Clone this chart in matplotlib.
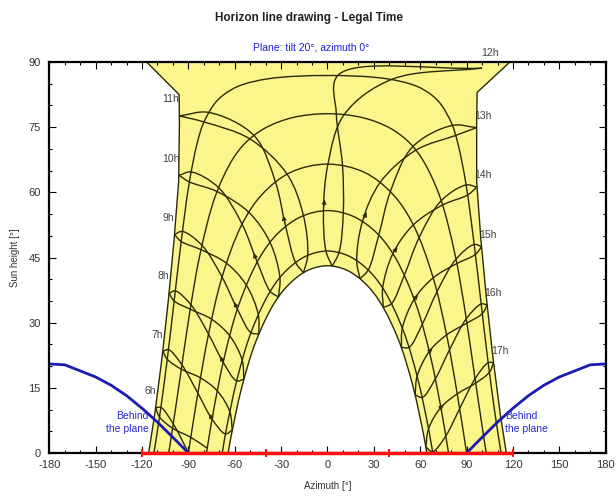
import numpy as np
import matplotlib
matplotlib.use("Agg")
import matplotlib.pyplot as plt
from matplotlib.path import Path
from matplotlib.patches import PathPatch
from matplotlib import font_manager

installed = {f.name for f in font_manager.fontManager.ttflist}
narrow = 'Liberation Sans Narrow' if 'Liberation Sans Narrow' in installed else 'Liberation Sans'
plt.rcParams['font.family'] = [narrow, 'DejaVu Sans']
plt.rcParams['axes.unicode_minus'] = False

# Date curves (azimuth [deg], sun height [deg]) - sunrise to sunset
az_jun22 = [-115.7, -111.7, -107.0, -102.9, -99.3, -96.3, -95.8, -96.0, -117.0,
            118.0, 96.8, 96.5, 96.5, 99.3, 102.9, 107.0, 111.7, 115.7]
el_jun22 = [0, 9.1, 22.1, 35.4, 48.9, 62.5, 76.2, 82.5, 90,
            90, 83.0, 76.2, 62.5, 48.9, 35.4, 22.1, 9.1, 0]
az_may22 = [-112.3, -108.8, -103.8, -99.3, -94.8, -89.5, -84.4, -80.4, -73.5, -67.4, -57.2, -37.3, 0,
            37.3, 57.2, 67.4, 73.5, 80.4, 84.4, 89.5, 94.8, 99.3, 103.8, 108.8, 112.3]
el_may22 = [0, 8.0, 21.2, 34.7, 48.3, 62.1, 71.2, 75.8, 80.2, 82.4, 84.5, 86.2, 86.9,
            86.2, 84.5, 82.4, 80.2, 75.8, 71.2, 62.1, 48.3, 34.7, 21.2, 8.0, 0]
az_apr20 = [-102.7, -100.7, -95.0, -89.3, -82.5, -72.6, -61.4, -52.8, -40.4, -22.6, 0,
            22.6, 40.4, 52.8, 61.4, 72.6, 82.5, 89.3, 95.0, 100.7, 102.7]
el_apr20 = [0, 4.6, 18.2, 32.0, 45.7, 59.1, 67.6, 71.5, 74.8, 77.2, 78.1,
            77.2, 74.8, 71.5, 67.6, 59.1, 45.7, 32.0, 18.2, 4.6, 0]
az_mar20 = [-90, -83.9, -77.0, -68.3, -55.4, -42.4, -23.9, 0, 23.9, 42.4, 55.4, 68.3, 77.0, 83.9, 90]
el_mar20 = [0, 13.7, 27.3, 40.4, 52.6, 59.5, 64.6, 66.5, 64.6, 59.5, 52.6, 40.4, 27.3, 13.7, 0]
az_feb21 = [-78.3, -74.0, -66.7, -57.2, -44.0, -32.0, -17.1, 0, 17.1, 32.0, 44.0, 57.2, 66.7, 74.0, 78.3]
el_feb21 = [0, 9.2, 22.1, 34.3, 44.9, 50.6, 54.4, 55.8, 54.4, 50.6, 44.9, 34.3, 22.1, 9.2, 0]
az_jan19 = [-68.1, -65.7, -58.4, -49.0, -36.4, -25.8, -13.4, 0, 13.4, 25.8, 36.4, 49.0, 58.4, 65.7, 68.1]
el_jan19 = [0, 5.0, 17.1, 28.2, 37.6, 42.3, 45.4, 46.5, 45.4, 42.3, 37.6, 28.2, 17.1, 5.0, 0]
az_dec22 = [-64.3, -62.6, -55.4, -46.1, -33.9, -23.9, -12.4, 0, 12.4, 23.9, 33.9, 46.1, 55.4, 62.6, 64.3]
el_dec22 = [0, 3.4, 15.2, 25.9, 34.8, 39.2, 42.1, 43.1, 42.1, 39.2, 34.8, 25.9, 15.2, 3.4, 0]

# Sun position at each legal hour 6h..17h for given dates (nan = below horizon)
hours = [6, 7, 8, 9, 10, 11, 12, 13, 14, 15, 16, 17]
nan = np.nan
h_az_jun22 = [-111.2, -106.5, -102.5, -99.0, -96.0, -95.8, 100.0, 96.5, 96.6, 99.7, 103.3, 107.4]
h_el_jun22 = [10.4, 23.4, 36.8, 50.3, 63.9, 77.6, 88.6, 74.9, 61.2, 47.5, 34.1, 20.8]
h_az_may22 = [-107.8, -102.9, -98.4, -93.9, -88.3, -76.9, 41.5, 82.9, 90.7, 95.7, 100.2, 104.8]
h_el_may22 = [10.5, 23.8, 37.3, 51.0, 64.7, 78.4, 86.0, 73.1, 59.4, 45.7, 32.1, 18.6]
h_az_jul23 = [-108.7, -103.7, -99.2, -94.7, -89.4, -79.9, 6.9, 80.7, 89.7, 94.9, 99.4, 104.0]
h_el_jul23 = [8.3, 21.6, 35.0, 48.7, 62.4, 76.2, 87.0, 75.4, 61.7, 48.0, 34.3, 20.8]
h_az_apr20 = [-99.8, -94.2, -88.3, -81.2, -70.5, -47.6, 10.8, 57.1, 74.5, 83.6, 90.2, 95.9]
h_el_apr20 = [6.7, 20.3, 34.1, 47.8, 61.1, 73.1, 77.9, 69.7, 57.1, 43.6, 29.9, 16.1]
h_az_aug20 = [-100.2, -94.6, -88.8, -81.8, -71.5, -50.2, 5.7, 55.1, 73.6, 83.1, 89.8, 95.5]
h_el_aug20 = [5.7, 19.3, 33.1, 46.8, 60.2, 72.3, 78.1, 70.5, 58.1, 44.6, 30.9, 17.1]
h_az_mar20 = [-90.0, -83.9, -77.0, -68.2, -55.3, -33.7, 0.3, 34.1, 55.5, 68.3, 77.1, 83.9]
h_el_mar20 = [0.1, 13.8, 27.4, 40.5, 52.7, 62.4, 66.5, 62.3, 52.5, 40.3, 27.2, 13.6]
h_az_sep23 = [-88.4, -82.2, -75.0, -65.4, -50.9, -26.2, 9.7, 40.7, 59.3, 70.8, 79.0, 85.5]
h_el_sep23 = [3.6, 17.3, 30.8, 43.7, 55.4, 64.2, 66.2, 60.2, 49.6, 37.1, 23.8, 10.2]
h_az_feb21 = [nan, -74.7, -67.5, -58.3, -45.5, -27.1, -2.6, 22.6, 42.3, 56.1, 65.9, 73.4]
h_el_feb21 = [nan, 7.8, 20.9, 33.1, 44.0, 52.2, 55.8, 53.3, 45.9, 35.4, 23.4, 10.5]
h_az_oct23 = [-77.8, -71.3, -63.3, -52.6, -37.2, -15.6, 10.2, 33.2, 49.8, 61.3, 69.8, 76.5]
h_el_oct23 = [1.1, 14.3, 27.0, 38.7, 48.5, 54.7, 55.3, 50.2, 41.0, 29.6, 17.1, 3.9]
h_az_jan19 = [nan, -66.0, -58.8, -49.5, -37.0, -20.7, -1.0, 18.9, 35.7, 48.4, 58.0, 65.4]
h_el_jan19 = [nan, 4.4, 16.6, 27.7, 37.2, 43.9, 46.5, 44.3, 38.0, 28.7, 17.7, 5.6]
h_az_nov22 = [nan, -63.2, -55.2, -44.8, -30.8, -12.8, 7.5, 26.3, 41.4, 52.7, 61.3, 67.9]
h_el_nov22 = [nan, 9.5, 21.4, 31.9, 40.4, 45.5, 46.2, 42.1, 34.4, 24.3, 12.8, 0.3]
h_az_dec22 = [nan, -61.6, -54.1, -44.4, -31.7, -15.5, 3.0, 21.0, 36.1, 47.8, 56.7, 63.6]
h_el_dec22 = [nan, 5.3, 17.0, 27.4, 35.9, 41.5, 43.0, 40.1, 33.5, 24.3, 13.4, 1.4]

# plane limit ("behind the plane")
plane_az_left = [-180, -170, -160, -150, -140, -130, -120, -110, -100, -90]
plane_el_left = [20.5, 20.3, 18.9, 17.5, 15.6, 13.2, 10.3, 7.1, 3.6, 0]
plane_az_right = [90, 100, 110, 120, 130, 140, 150, 160, 170, 180]
plane_el_right = [0, 3.6, 7.1, 10.3, 13.2, 15.6, 17.5, 18.9, 20.3, 20.5]

red_az = [-120, -40, 40, 120]

# rough screen aspect of one degree (x, y), used only for curve smoothing
ASPECT = np.array([1.545, 4.344])


def smooth_path(xs, ys, alpha=0.5):
    # centripetal Catmull-Rom curve through the points, as cubic Bezier segments
    pts = np.column_stack([xs, ys]).astype(float) * ASPECT
    ext = np.vstack([2 * pts[0] - pts[1], pts, 2 * pts[-1] - pts[-2]])
    verts, codes = [pts[0]], [Path.MOVETO]
    for i in range(len(pts) - 1):
        p0, p1, p2, p3 = ext[i], ext[i + 1], ext[i + 2], ext[i + 3]
        d1 = max(np.linalg.norm(p1 - p0), 1e-6) ** alpha
        d2 = max(np.linalg.norm(p2 - p1), 1e-6) ** alpha
        d3 = max(np.linalg.norm(p3 - p2), 1e-6) ** alpha
        b1 = (d1 ** 2 * p2 - d2 ** 2 * p0 + (2 * d1 ** 2 + 3 * d1 * d2 + d2 ** 2) * p1) / (3 * d1 * (d1 + d2))
        b2 = (d3 ** 2 * p1 - d2 ** 2 * p3 + (2 * d3 ** 2 + 3 * d3 * d2 + d2 ** 2) * p2) / (3 * d3 * (d3 + d2))
        verts += [b1, b2, p2]
        codes += [Path.CURVE4] * 3
    verts = [v / ASPECT for v in verts]
    return verts, codes


def draw_smooth(ax, xs, ys, **kw):
    xs, ys = np.asarray(xs, float), np.asarray(ys, float)
    ok = np.isfinite(xs) & np.isfinite(ys)
    idx = np.flatnonzero(ok)
    runs = np.split(idx, np.flatnonzero(np.diff(idx) > 1) + 1)
    for r in runs:
        if len(r) < 2:
            continue
        v, c = smooth_path(xs[r], ys[r])
        ax.add_patch(PathPatch(Path(v, c), fill=False, **kw))


fig = plt.figure(figsize=(6.16, 5.03), dpi=100)
ax = fig.add_axes([0.080, 0.0994, 0.9033, 0.7773])

line_col = '#2a2a06'
lw = 1.0
# yellow area between the June and December paths
v_in, c_in = smooth_path(az_dec22[::-1], el_dec22[::-1])
fill_verts = list(zip(az_jun22, el_jun22)) + v_in + [(0, 0)]
fill_codes = [Path.MOVETO] + [Path.LINETO] * (len(az_jun22) - 1) + [Path.LINETO] + c_in[1:] + [Path.CLOSEPOLY]
ax.add_patch(PathPatch(Path(fill_verts, fill_codes), facecolor='#fbf68c', lw=0, zorder=1))

ax.plot(az_jun22, el_jun22, color=line_col, lw=lw, zorder=2)
for a, e in [(az_may22, el_may22), (az_apr20, el_apr20), (az_mar20, el_mar20),
             (az_feb21, el_feb21), (az_jan19, el_jan19), (az_dec22, el_dec22)]:
    draw_smooth(ax, a, e, edgecolor=line_col, lw=lw, zorder=2)

branch_a = [(h_az_dec22, h_el_dec22), (h_az_jan19, h_el_jan19), (h_az_feb21, h_el_feb21),
            (h_az_mar20, h_el_mar20), (h_az_apr20, h_el_apr20), (h_az_may22, h_el_may22),
            (h_az_jun22, h_el_jun22)]
branch_b = [(h_az_jun22, h_el_jun22), (h_az_jul23, h_el_jul23), (h_az_aug20, h_el_aug20),
            (h_az_sep23, h_el_sep23), (h_az_oct23, h_el_oct23), (h_az_nov22, h_el_nov22),
            (h_az_dec22, h_el_dec22)]
for i, h in enumerate(hours):
    for br in (branch_a, branch_b):
        draw_smooth(ax, [p[0][i] for p in br], [p[1][i] for p in br],
                    edgecolor=line_col, lw=lw, zorder=3)
    # small arrow showing the run of the year (February -> March)
    if np.isfinite(h_az_feb21[i]):
        xa, ya = h_az_feb21[i], h_el_feb21[i]
        xb, yb = h_az_mar20[i], h_el_mar20[i]
        ax.annotate('', xy=(xa + 0.3 * (xb - xa), ya + 0.3 * (yb - ya)), xytext=(xa, ya),
                    arrowprops=dict(arrowstyle='-|>', color=line_col, lw=0.6, mutation_scale=7),
                    zorder=4)
    x0, y0 = h_az_jun22[i], h_el_jun22[i]
    if h < 12:
        ax.annotate(f"{h}h", (x0, y0), xytext=(0, 12), textcoords='offset points',
                    ha='right', va='center', fontsize=7.5, color='#404040')
    elif h == 12:
        ax.annotate(f"{h}h", (x0, y0), xytext=(6, 11), textcoords='offset points',
                    ha='center', va='center', fontsize=7.5, color='#404040', annotation_clip=False)
    else:
        ax.annotate(f"{h}h", (x0, y0), xytext=(-2, 8.5), textcoords='offset points',
                    ha='left', va='center', fontsize=7.5, color='#404040')

ax.plot(plane_az_left, plane_el_left, color='#1c1cb4', lw=2, zorder=4)
ax.plot(plane_az_right, plane_el_right, color='#1c1cb4', lw=2, zorder=4)
ax.text(-115.5, 7.0, "Behind\nthe plane", color='#2828d8', fontsize=7.5, ha='right', va='center',
        linespacing=1.45, zorder=5)
ax.text(115.0, 7.0, "Behind\nthe plane", color='#2828d8', fontsize=7.5, ha='left', va='center',
        linespacing=1.45, zorder=5)

ax.plot([red_az[0], red_az[-1]], [0, 0], color='#ff1010', lw=2.5, zorder=6, clip_on=False,
        solid_capstyle='butt')
ax.plot(red_az, [0] * len(red_az), ls='none', marker='|', ms=6, mew=1.5, color='#ff1010',
        zorder=6, clip_on=False)

ax.set_xlim(-180, 180)
ax.set_ylim(0, 90)
ax.set_xticks(np.arange(-180, 181, 30))
ax.set_xticks(np.arange(-180, 181, 10), minor=True)
ax.set_yticks(np.arange(0, 91, 15))
ax.set_yticks(np.arange(0, 91, 5), minor=True)
ax.tick_params(which='both', direction='in', top=True, right=True, labelsize=8,
               labelcolor='#333333')
ax.tick_params(axis='x', pad=5)
ax.tick_params(axis='y', pad=6)
ax.tick_params(which='major', length=5, width=0.8)
ax.tick_params(which='minor', length=2.5, width=0.8)
for s in ax.spines.values():
    s.set_linewidth(1.6)
    s.set_zorder(5)

ax.set_xlabel("Azimuth [°]", fontsize=7, labelpad=8, color='#333333')
ax.set_ylabel("Sun height [°]", fontsize=7, labelpad=6, color='#333333')
fig.text(0.502, 0.964, "Horizon line drawing - Legal Time", ha='center', va='center',
         fontsize=8.5, fontweight='bold', color='#222222')
fig.text(0.505, 0.905, "Plane: tilt 20°, azimuth 0°", ha='center', va='center',
         fontsize=7.5, color='#2020d0')

fig.savefig("out.png", dpi=100)
